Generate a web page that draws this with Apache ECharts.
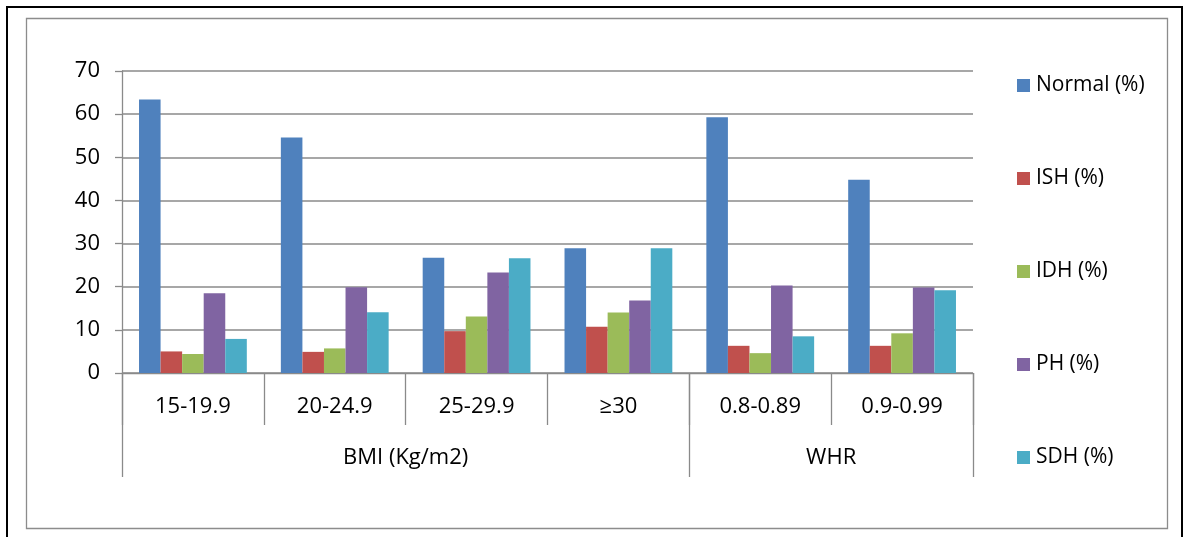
<!DOCTYPE html>
<html>
<head>
<meta charset="utf-8">
<script src="https://cdn.jsdelivr.net/npm/echarts@6/dist/echarts.min.js"></script>
<style>
html,body{margin:0;padding:0;background:#fff;}
#chart{width:1184px;height:537px;}
</style>
</head>
<body>
<div id="chart"></div>
<script>
var categories = ['15-19.9', '20-24.9', '25-29.9', '≥30', '0.8-0.89', '0.9-0.99'];
var groupLabels = ['BMI (Kg/m2)', 'WHR'];
var groupCenters = [2, 5];
var groupEdges = [0, 4, 6];
var seriesNames = ['Normal (%)', 'ISH (%)', 'IDH (%)', 'PH (%)', 'SDH (%)'];
var normal = [63.4, 54.6, 26.7, 28.9, 59.3, 44.8];
var ish    = [5.0, 4.9, 9.7, 10.7, 6.3, 6.3];
var idh    = [4.4, 5.7, 13.1, 14.0, 4.6, 9.2];
var ph     = [18.5, 19.9, 23.3, 16.8, 20.3, 19.8];
var sdh    = [7.9, 14.1, 26.6, 28.9, 8.5, 19.2];
var yTicks = [0, 10, 20, 30, 40, 50, 60, 70];

var colors = ['#4F81BD', '#C0504D', '#9BBB59', '#8064A2', '#4BACC6'];
var values = [normal, ish, idh, ph, sdh];
var font = 'Open Sans';
var axisGray = '#8a8a8a';

var chart = echarts.init(document.getElementById('chart'));
var series = seriesNames.map(function (n, i) {
  return {
    name: n, type: 'bar', xAxisIndex: 0, yAxisIndex: 0,
    data: values[i], barGap: '0%', barCategoryGap: '24%',
    itemStyle: { color: colors[i] }
  };
});
chart.setOption({
  animation: false,
  color: colors,
  textStyle: { fontFamily: font },
  grid: { left: 122, right: 211, top: 71, bottom: 164, containLabel: false },
  graphic: [
    { type: 'rect', shape: { x: 7, y: 7, width: 1175, height: 540 }, style: { fill: 'none', stroke: '#000', lineWidth: 2 }, silent: true },
    { type: 'rect', shape: { x: 26.5, y: 18.5, width: 1141, height: 510 }, style: { fill: 'none', stroke: '#8c8c8c', lineWidth: 1.3 }, silent: true }
  ],
  legend: {
    orient: 'vertical', left: 1017, top: 73, padding: 0,
    itemWidth: 13, itemHeight: 13, itemGap: 68,
    icon: 'rect',
    data: seriesNames,
    textStyle: { fontFamily: font, fontSize: 21, color: '#000', lineHeight: 25, padding: [0, 0, 0, 1] }
  },
  xAxis: [
    {
      type: 'category', data: categories, position: 'bottom', boundaryGap: true,
      axisLine: { show: true, lineStyle: { color: axisGray, width: 1.3 } },
      axisTick: { show: true, interval: 0, length: 52, lineStyle: { color: axisGray, width: 1.3 } },
      axisLabel: { interval: 0, margin: 23, fontSize: 22, color: '#000', fontFamily: font },
      splitLine: { show: false }
    },
    {
      type: 'value', min: 0, max: 6, position: 'bottom',
      axisLine: { show: false },
      axisTick: { show: true, customValues: groupEdges, length: 104, lineStyle: { color: axisGray, width: 1.3 } },
      axisLabel: {
        show: true, customValues: groupCenters, margin: 74, fontSize: 22, color: '#000', fontFamily: font,
        formatter: function (v) { var k = groupCenters.indexOf(v); return k >= 0 ? groupLabels[k] : ''; }
      },
      splitLine: { show: false }
    }
  ],
  yAxis: {
    type: 'value', min: 0, max: 70, interval: 10,
    axisLine: { show: true, lineStyle: { color: axisGray, width: 1.3 } },
    axisTick: { show: true, length: 7, lineStyle: { color: axisGray, width: 1.3 } },
    axisLabel: { margin: 22, fontSize: 22, color: '#000', fontFamily: font,
      formatter: function (v) { return yTicks.indexOf(v) >= 0 ? String(v) : ''; } },
    splitLine: { show: true, lineStyle: { color: axisGray, width: 1.5 } }
  },
  series: series
});
</script>
</body>
</html>
